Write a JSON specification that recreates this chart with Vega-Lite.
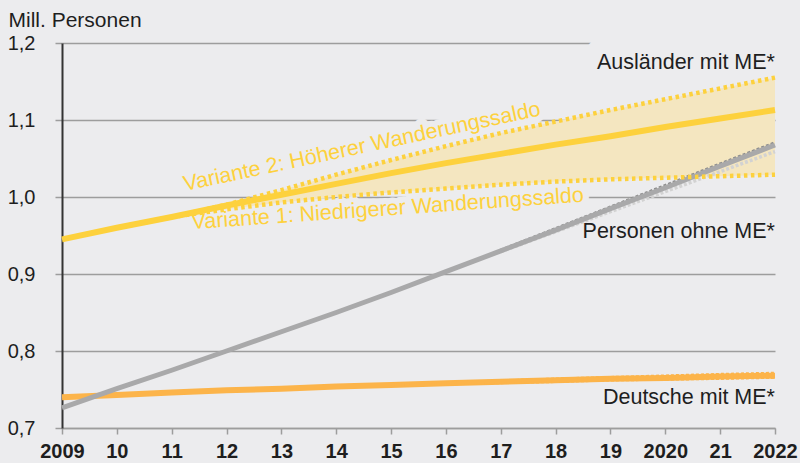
{
  "$schema": "https://vega.github.io/schema/vega-lite/v6.json",
  "width": 713,
  "height": 385,
  "autosize": {"type": "none"},
  "padding": {"left": 62, "top": 43, "right": 25, "bottom": 35},
  "background": "#ececee",
  "config": {
    "view": {"stroke": null},
    "font": "Liberation Sans",
    "text": {"font": "Liberation Sans"}
  },
  "datasets": {
    "lines": [
      {"series": "A", "year": 2009, "value": 0.945},
      {"series": "A", "year": 2010, "value": 0.960},
      {"series": "A", "year": 2011, "value": 0.974},
      {"series": "A", "year": 2012, "value": 0.989},
      {"series": "A", "year": 2013, "value": 1.003},
      {"series": "A", "year": 2014, "value": 1.017},
      {"series": "A", "year": 2015, "value": 1.031},
      {"series": "A", "year": 2016, "value": 1.044},
      {"series": "A", "year": 2017, "value": 1.056},
      {"series": "A", "year": 2018, "value": 1.068},
      {"series": "A", "year": 2019, "value": 1.079},
      {"series": "A", "year": 2020, "value": 1.091},
      {"series": "A", "year": 2021, "value": 1.102},
      {"series": "A", "year": 2022, "value": 1.113},
      {"series": "AV2", "year": 2010, "value": 0.960},
      {"series": "AV2", "year": 2011, "value": 0.974},
      {"series": "AV2", "year": 2012, "value": 0.990},
      {"series": "AV2", "year": 2013, "value": 1.009},
      {"series": "AV2", "year": 2014, "value": 1.029},
      {"series": "AV2", "year": 2015, "value": 1.048},
      {"series": "AV2", "year": 2016, "value": 1.066},
      {"series": "AV2", "year": 2017, "value": 1.083},
      {"series": "AV2", "year": 2018, "value": 1.098},
      {"series": "AV2", "year": 2019, "value": 1.113},
      {"series": "AV2", "year": 2020, "value": 1.127},
      {"series": "AV2", "year": 2021, "value": 1.141},
      {"series": "AV2", "year": 2022, "value": 1.155},
      {"series": "AV1", "year": 2010, "value": 0.960},
      {"series": "AV1", "year": 2011, "value": 0.974},
      {"series": "AV1", "year": 2012, "value": 0.984},
      {"series": "AV1", "year": 2013, "value": 0.993},
      {"series": "AV1", "year": 2014, "value": 1.000},
      {"series": "AV1", "year": 2015, "value": 1.006},
      {"series": "AV1", "year": 2016, "value": 1.011},
      {"series": "AV1", "year": 2017, "value": 1.016},
      {"series": "AV1", "year": 2018, "value": 1.020},
      {"series": "AV1", "year": 2019, "value": 1.023},
      {"series": "AV1", "year": 2020, "value": 1.025},
      {"series": "AV1", "year": 2021, "value": 1.027},
      {"series": "AV1", "year": 2022, "value": 1.029},
      {"series": "P", "year": 2009, "value": 0.726},
      {"series": "P", "year": 2010, "value": 0.751},
      {"series": "P", "year": 2011, "value": 0.775},
      {"series": "P", "year": 2012, "value": 0.800},
      {"series": "P", "year": 2013, "value": 0.825},
      {"series": "P", "year": 2014, "value": 0.850},
      {"series": "P", "year": 2015, "value": 0.876},
      {"series": "P", "year": 2016, "value": 0.903},
      {"series": "P", "year": 2017, "value": 0.930},
      {"series": "P", "year": 2018, "value": 0.957},
      {"series": "P", "year": 2019, "value": 0.985},
      {"series": "P", "year": 2020, "value": 1.012},
      {"series": "P", "year": 2021, "value": 1.040},
      {"series": "P", "year": 2022, "value": 1.0675},
      {"series": "PV1", "year": 2017, "value": 0.929},
      {"series": "PV1", "year": 2018, "value": 0.955},
      {"series": "PV1", "year": 2019, "value": 0.981},
      {"series": "PV1", "year": 2020, "value": 1.007},
      {"series": "PV1", "year": 2021, "value": 1.033},
      {"series": "PV1", "year": 2022, "value": 1.059},
      {"series": "PV2", "year": 2017, "value": 0.931},
      {"series": "PV2", "year": 2018, "value": 0.959},
      {"series": "PV2", "year": 2019, "value": 0.987},
      {"series": "PV2", "year": 2020, "value": 1.015},
      {"series": "PV2", "year": 2021, "value": 1.043},
      {"series": "PV2", "year": 2022, "value": 1.0705},
      {"series": "D", "year": 2009, "value": 0.740},
      {"series": "D", "year": 2010, "value": 0.743},
      {"series": "D", "year": 2011, "value": 0.746},
      {"series": "D", "year": 2012, "value": 0.749},
      {"series": "D", "year": 2013, "value": 0.751},
      {"series": "D", "year": 2014, "value": 0.754},
      {"series": "D", "year": 2015, "value": 0.756},
      {"series": "D", "year": 2016, "value": 0.758},
      {"series": "D", "year": 2017, "value": 0.760},
      {"series": "D", "year": 2018, "value": 0.762},
      {"series": "D", "year": 2019, "value": 0.764},
      {"series": "D", "year": 2020, "value": 0.765},
      {"series": "D", "year": 2021, "value": 0.767},
      {"series": "D", "year": 2022, "value": 0.768},
      {"series": "DV2", "year": 2015, "value": 0.756},
      {"series": "DV2", "year": 2016, "value": 0.758},
      {"series": "DV2", "year": 2017, "value": 0.7605},
      {"series": "DV2", "year": 2018, "value": 0.763},
      {"series": "DV2", "year": 2019, "value": 0.765},
      {"series": "DV2", "year": 2020, "value": 0.767},
      {"series": "DV2", "year": 2021, "value": 0.769},
      {"series": "DV2", "year": 2022, "value": 0.7705},
      {"series": "DV1", "year": 2015, "value": 0.756},
      {"series": "DV1", "year": 2016, "value": 0.758},
      {"series": "DV1", "year": 2017, "value": 0.7595},
      {"series": "DV1", "year": 2018, "value": 0.761},
      {"series": "DV1", "year": 2019, "value": 0.763},
      {"series": "DV1", "year": 2020, "value": 0.764},
      {"series": "DV1", "year": 2021, "value": 0.765},
      {"series": "DV1", "year": 2022, "value": 0.7665}
    ],
    "band": [
      {"year": 2010, "value": 0.960, "hi": 0.960},
      {"year": 2011, "value": 0.974, "hi": 0.974},
      {"year": 2012, "value": 0.984, "hi": 0.990},
      {"year": 2013, "value": 0.993, "hi": 1.009},
      {"year": 2014, "value": 1.000, "hi": 1.029},
      {"year": 2015, "value": 1.006, "hi": 1.048},
      {"year": 2016, "value": 1.011, "hi": 1.066},
      {"year": 2017, "value": 1.016, "hi": 1.083},
      {"year": 2018, "value": 1.020, "hi": 1.098},
      {"year": 2019, "value": 1.023, "hi": 1.113},
      {"year": 2020, "value": 1.025, "hi": 1.127},
      {"year": 2021, "value": 1.027, "hi": 1.141},
      {"year": 2022, "value": 1.029, "hi": 1.155}
    ],
    "labels": [
      {"key": "A", "label": "Ausländer mit ME*", "year": 2022, "value": 1.1662},
      {"key": "P", "label": "Personen ohne ME*", "year": 2022, "value": 0.9464},
      {"key": "D", "label": "Deutsche mit ME*", "year": 2022, "value": 0.7312},
      {"key": "V2", "label": "Variante 2: Höherer Wanderungssaldo", "year": 2011.243, "value": 1.0078},
      {"key": "V1", "label": "Variante 1: Niedrigerer Wanderungssaldo", "year": 2011.37, "value": 0.9584}
    ]
  },
  "encoding": {
    "x": {
      "field": "year",
      "type": "quantitative",
      "scale": {"domain": [2009, 2022], "nice": false, "zero": false},
      "axis": {
        "title": null,
        "values": [2009, 2010, 2011, 2012, 2013, 2014, 2015, 2016, 2017, 2018, 2019, 2020, 2021, 2022],
        "labelExpr": "(datum.value == 2009 || datum.value == 2020 || datum.value == 2022) ? toString(datum.value) : substring(toString(datum.value), 2)",
        "grid": false,
        "domainColor": "#9d9d9d",
        "domainWidth": 1.5,
        "tickColor": "#9d9d9d",
        "tickWidth": 1.5,
        "tickSize": 6,
        "labelFont": "Liberation Sans",
        "labelFontSize": 20,
        "labelFontWeight": "bold",
        "labelColor": "#1e1e1e",
        "labelPadding": 7,
        "labelOverlap": false,
        "labelFlush": false
      }
    },
    "y": {
      "field": "value",
      "type": "quantitative",
      "scale": {"domain": [0.7, 1.2], "nice": false, "zero": false},
      "axis": {
        "title": "Mill. Personen",
        "titleAngle": 0,
        "titleAlign": "left",
        "titleBaseline": "alphabetic",
        "titleX": -54,
        "titleY": -17,
        "titleFont": "Liberation Sans",
        "titleFontSize": 21,
        "titleFontWeight": "normal",
        "titleColor": "#1e1e1e",
        "values": [0.7, 0.8, 0.9, 1.0, 1.1, 1.2],
        "labelExpr": "replace(format(datum.value, '.1f'), '.', ',')",
        "grid": true,
        "gridColor": "#9d9d9d",
        "gridWidth": 1.5,
        "tickColor": "#9d9d9d",
        "tickWidth": 1.5,
        "tickSize": 7,
        "domainColor": "#333333",
        "domainWidth": 2,
        "labelFont": "Liberation Sans",
        "labelFontSize": 20,
        "labelColor": "#1e1e1e",
        "labelPadding": 20
      }
    }
  },
  "layer": [
    {
      "data": {"name": "labels"},
      "transform": [{"filter": "datum.key == 'V2'"}],
      "mark": {"type": "text", "align": "left", "baseline": "alphabetic", "angle": -12, "fontSize": 21.5, "fill": "#ececee", "stroke": "#ececee", "strokeWidth": 12, "strokeJoin": "round"},
      "encoding": {"text": {"field": "label"}}
    },
    {
      "data": {"name": "labels"},
      "transform": [{"filter": "datum.key == 'V1'"}],
      "mark": {"type": "text", "align": "left", "baseline": "alphabetic", "angle": -4, "fontSize": 21.5, "fill": "#ececee", "stroke": "#ececee", "strokeWidth": 12, "strokeJoin": "round"},
      "encoding": {"text": {"field": "label"}}
    },
    {
      "data": {"name": "labels"},
      "transform": [{"filter": "datum.key == 'A'"}],
      "mark": {"type": "text", "align": "right", "baseline": "alphabetic", "fontSize": 21.5, "fill": "#ececee", "stroke": "#ececee", "strokeWidth": 34, "strokeJoin": "round"},
      "encoding": {"text": {"field": "label"}}
    },
    {
      "data": {"name": "band"},
      "mark": {"type": "area", "color": "#f4e6c0", "opacity": 1},
      "encoding": {"y2": {"field": "hi"}}
    },
    {
      "data": {"name": "lines"},
      "transform": [{"filter": "datum.series == 'PV2'"}],
      "mark": {"type": "line", "color": "#8e8e8e", "strokeWidth": 3, "strokeDash": [3, 2], "strokeCap": "butt"},
      "encoding": {}
    },
    {
      "data": {"name": "lines"},
      "transform": [{"filter": "datum.series == 'PV1'"}],
      "mark": {"type": "line", "color": "#d2d2d2", "strokeWidth": 3.5, "strokeDash": [3, 2], "strokeCap": "butt"},
      "encoding": {}
    },
    {
      "data": {"name": "lines"},
      "transform": [{"filter": "datum.series == 'D'"}],
      "mark": {"type": "line", "color": "#fcb44a", "strokeWidth": 6, "strokeCap": "butt"},
      "encoding": {}
    },
    {
      "data": {"name": "lines"},
      "transform": [{"filter": "datum.series == 'DV1' || datum.series == 'DV2'"}],
      "mark": {"type": "line", "color": "#fcb44a", "strokeWidth": 4, "strokeDash": [3, 2], "strokeCap": "butt"},
      "encoding": {"detail": {"field": "series"}}
    },
    {
      "data": {"name": "lines"},
      "transform": [{"filter": "datum.series == 'P'"}],
      "mark": {"type": "line", "color": "#a9a9aa", "strokeWidth": 5, "strokeCap": "butt"},
      "encoding": {}
    },
    {
      "data": {"name": "lines"},
      "transform": [{"filter": "datum.series == 'AV1' || datum.series == 'AV2'"}],
      "mark": {"type": "line", "color": "#fdd13d", "strokeWidth": 4.5, "strokeDash": [3.5, 3.5], "strokeCap": "butt"},
      "encoding": {"detail": {"field": "series"}}
    },
    {
      "data": {"name": "lines"},
      "transform": [{"filter": "datum.series == 'A'"}],
      "mark": {"type": "line", "color": "#fdd13d", "strokeWidth": 6, "strokeCap": "butt"},
      "encoding": {}
    },
    {
      "data": {"name": "labels"},
      "transform": [{"filter": "datum.key == 'V2'"}],
      "mark": {"type": "text", "align": "left", "baseline": "alphabetic", "angle": -12, "fontSize": 21.5, "color": "#fdd13d"},
      "encoding": {"text": {"field": "label"}}
    },
    {
      "data": {"name": "labels"},
      "transform": [{"filter": "datum.key == 'V1'"}],
      "mark": {"type": "text", "align": "left", "baseline": "alphabetic", "angle": -4, "fontSize": 21.5, "color": "#fdd13d"},
      "encoding": {"text": {"field": "label"}}
    },
    {
      "data": {"name": "labels"},
      "transform": [{"filter": "datum.key == 'A' || datum.key == 'P' || datum.key == 'D'"}],
      "mark": {"type": "text", "align": "right", "baseline": "alphabetic", "fontSize": 21.5, "color": "#1e1e1e"},
      "encoding": {"text": {"field": "label"}}
    }
  ]
}
